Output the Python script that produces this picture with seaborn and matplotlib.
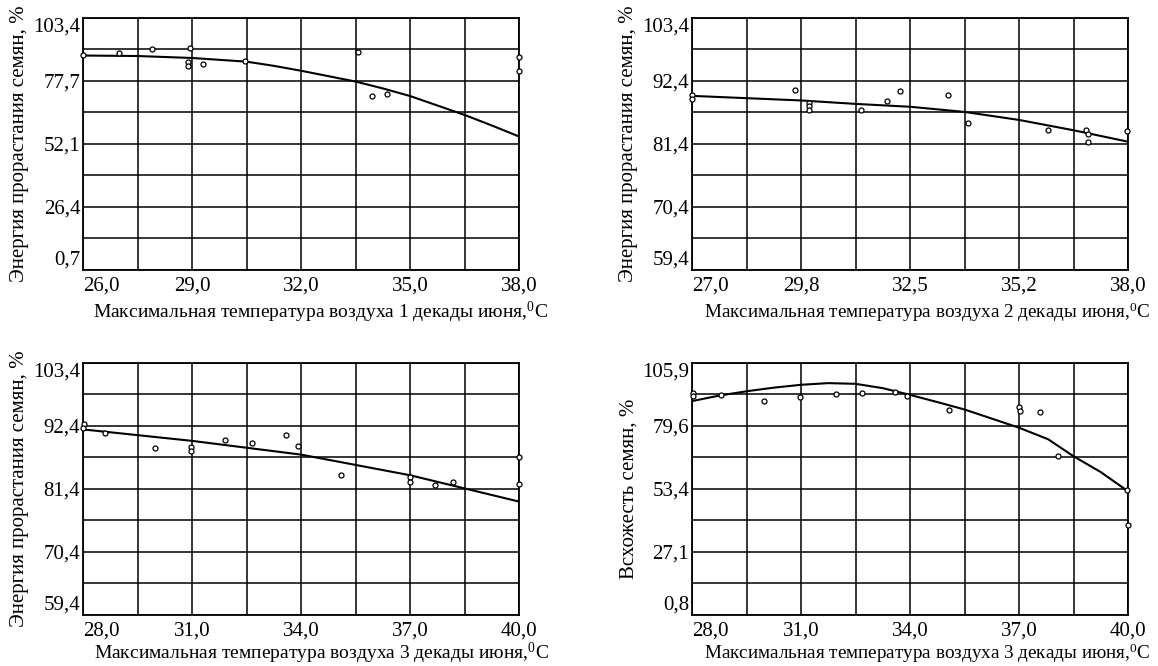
import numpy as np
import pandas as pd
import matplotlib
matplotlib.use("Agg")
import matplotlib.pyplot as plt
import seaborn as sns

# ---- panel 1: decade 1 ----
p1_x = [26.0, 26.98, 27.89, 28.94, 28.9, 28.9, 29.3, 30.46, 33.58, 33.95, 34.36, 38.0, 38.0]
p1_y = [88.2, 89.0, 90.7, 91.2, 85.6, 83.9, 84.5, 85.7, 89.5, 71.6, 72.6, 87.5, 81.6]
p1_curve_x = [26.0, 27.5, 29.0, 30.5, 31.25, 32.0, 33.5, 34.25, 35.0, 36.5, 37.25, 38.0]
p1_curve_y = [88.1, 87.9, 87.1, 85.6, 83.9, 81.9, 77.5, 74.7, 71.6, 63.9, 59.6, 55.1]

# ---- panel 2: decade 2 ----
p2_x = [27.0, 27.0, 29.59, 29.95, 29.94, 29.94, 31.26, 31.92, 32.25, 33.45, 33.96, 35.98, 36.95, 36.98, 36.99, 37.98]
p2_y = [90.0, 89.3, 90.8, 88.6, 88.0, 87.4, 87.4, 88.9, 90.6, 90.0, 85.1, 83.8, 83.8, 83.1, 81.8, 83.7]
p2_curve_x = [27.0, 29.75, 31.125, 32.5, 33.875, 35.25, 36.625, 38.0]
p2_curve_y = [89.8, 89.0, 88.4, 87.9, 87.0, 85.6, 83.8, 81.8]

# ---- panel 3: decade 3, energy ----
p3_x = [28.04, 28.0, 28.61, 29.99, 30.96, 30.96, 31.9, 32.64, 33.59, 33.92, 35.1, 36.99, 36.99, 37.68, 38.18, 40.0, 40.0]
p3_y = [92.7, 92.06, 91.1, 88.6, 88.7, 88.0, 90.0, 89.4, 90.8, 88.9, 83.9, 83.5, 82.7, 82.1, 82.6, 86.9, 82.2]
p3_curve_x = [28.0, 31.0, 34.0, 37.0, 38.5, 40.0]
p3_curve_y = [91.8, 89.8, 87.4, 83.8, 81.5, 79.2]

# ---- panel 4: decade 3, germination ----
p4_x = [28.02, 28.02, 28.79, 29.97, 30.96, 31.95, 32.68, 33.58, 33.93, 35.07, 37.0, 37.02, 37.58, 38.08, 39.96, 40.0]
p4_y = [93.5, 92.0, 92.7, 90.2, 91.6, 93.0, 93.4, 93.8, 92.0, 86.3, 87.6, 86.0, 85.5, 67.0, 52.8, 38.3]
p4_curve_x = [28.0, 28.75, 29.5, 30.25, 31.0, 31.75, 32.5, 33.25, 34.0, 34.75, 35.5, 37.0, 37.8, 38.5, 39.25, 40.0]
p4_curve_y = [90.0, 92.3, 94.1, 95.6, 96.8, 97.5, 97.2, 95.4, 92.6, 89.6, 86.5, 78.9, 74.1, 67.0, 60.4, 52.4]

p1_xlabels = ["26,0", "29,0", "32,0", "35,0", "38,0"]
p1_ylabels = ["0,7", "26,4", "52,1", "77,7", "103,4"]
p2_xlabels = ["27,0", "29,8", "32,5", "35,2", "38,0"]
p2_ylabels = ["59,4", "70,4", "81,4", "92,4", "103,4"]
p3_xlabels = ["28,0", "31,0", "34,0", "37,0", "40,0"]
p3_ylabels = ["59,4", "70,4", "81,4", "92,4", "103,4"]
p4_xlabels = ["28,0", "31,0", "34,0", "37,0", "40,0"]
p4_ylabels = ["0,8", "27,1", "53,4", "79,6", "105,9"]

ylab_energy = "Энергия прорастания семян, %"
ylab_germ = "Всхожесть семян, %"
xlab_1 = "Максимальная температура воздуха 1 декады июня,$^0$C"
xlab_2 = "Максимальная температура воздуха 2 декады июня,$^0$C"
xlab_3 = "Максимальная температура воздуха 3 декады июня,$^0$C"

sns.set_theme(style="white")
plt.rcParams["font.family"] = ["Liberation Serif", "DejaVu Serif"]
plt.rcParams["mathtext.fontset"] = "custom"
plt.rcParams["mathtext.rm"] = "Liberation Serif"
plt.rcParams["mathtext.it"] = "Liberation Serif"


def draw_panel(ax, px, py, cx, cy, xlim, ylim, xlabels, ylabels, xlab, ylab,
               xlab_pos, xlab_size, xlab_y):
    xt = np.linspace(xlim[0], xlim[1], 9)
    yt = np.linspace(ylim[0], ylim[1], 9)
    ax.set_xlim(*xlim)
    ax.set_ylim(*ylim)
    ax.set_xticks(xt)
    ax.set_yticks(yt)
    ax.set_xticklabels([xlabels[i // 2] if i % 2 == 0 else "" for i in range(9)])
    ax.set_yticklabels([ylabels[i // 2] if i % 2 == 0 else "" for i in range(9)])
    ax.grid(True, color="black", linewidth=1.1)
    ax.set_axisbelow(True)
    for s in ax.spines.values():
        s.set_color("black")
        s.set_linewidth(1.3)
    ax.tick_params(axis="both", length=0, labelsize=15, colors="black")
    ax.tick_params(axis="x", pad=5)
    ax.tick_params(axis="y", pad=2)
    # first x label starts at the axis, top y label hangs below the frame
    ax.get_xticklabels()[0].set_horizontalalignment("left")
    ax.get_yticklabels()[-1].set_verticalalignment("top")
    ax.get_yticklabels()[0].set_verticalalignment("bottom")

    sns.lineplot(x=cx, y=cy, ax=ax, color="black", linewidth=1.5, sort=False, zorder=3)
    sns.scatterplot(x=px, y=py, ax=ax, s=13, facecolor="white", edgecolor="black",
                    linewidth=0.9, zorder=4, clip_on=False)
    ax.set_xlabel(xlab, fontsize=xlab_size, color="black")
    ax.xaxis.set_label_coords(xlab_pos, xlab_y)
    ax.set_ylabel(ylab, fontsize=15, color="black", labelpad=3)


fig = plt.figure(figsize=(11.58, 6.66), dpi=100)
ax1 = fig.add_axes([0.0717, 0.5946, 0.3765, 0.3784])
ax2 = fig.add_axes([0.5976, 0.5946, 0.3765, 0.3784])
ax3 = fig.add_axes([0.0717, 0.0766, 0.3765, 0.3784])
ax4 = fig.add_axes([0.5976, 0.0766, 0.3765, 0.3784])

draw_panel(ax1, p1_x, p1_y, p1_curve_x, p1_curve_y, (26.0, 38.0), (0.7, 103.4),
           p1_xlabels, p1_ylabels, xlab_1, ylab_energy, 0.545, 14, -0.12)
draw_panel(ax2, p2_x, p2_y, p2_curve_x, p2_curve_y, (27.0, 38.0), (59.4, 103.4),
           p2_xlabels, p2_ylabels, xlab_2, ylab_energy, 0.54, 13.8, -0.12)
draw_panel(ax3, p3_x, p3_y, p3_curve_x, p3_curve_y, (28.0, 40.0), (59.4, 103.4),
           p3_xlabels, p3_ylabels, xlab_3, ylab_energy, 0.548, 14, -0.104)
draw_panel(ax4, p4_x, p4_y, p4_curve_x, p4_curve_y, (28.0, 40.0), (0.8, 105.9),
           p4_xlabels, p4_ylabels, xlab_3, ylab_germ, 0.54, 13.8, -0.104)

fig.savefig("out.png", dpi=100, facecolor="white")
